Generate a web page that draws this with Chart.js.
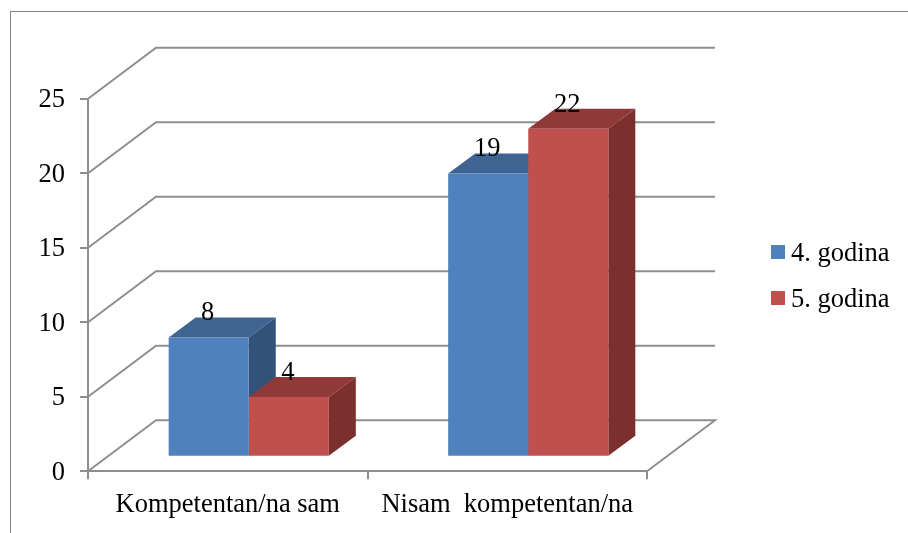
<!DOCTYPE html>
<html>
<head>
<meta charset="utf-8">
<title>Kompetentnost</title>
<script src="https://cdn.jsdelivr.net/npm/chart.js@4"></script>
<style>
html, body { margin: 0; padding: 0; background: #fff; overflow: hidden; }
#frame { position: absolute; left: 10px; top: 11px; right: 0; bottom: 0; border-left: 1px solid #868686; border-top: 1px solid #868686; }
#chart { position: absolute; left: 0; top: 0; }
</style>
</head>
<body>
<div id="frame"></div>
<canvas id="chart" width="908" height="533"></canvas>
<script>
const categories = ['Kompetentan/na sam', 'Nisam  kompetentan/na'];
const seriesNames = ['4. godina', '5. godina'];
const year4 = [8, 19];
const year5 = [4, 22];

const font = 'Liberation Serif';
const fontSize = 26.5;
const gridColor = '#8E8E8E';
const frontColors = ['#4F81BD', '#C0504D'];
const topColors = ['#3F6491', '#8F3A38'];
const sideColors = ['#325279', '#7C302E'];

// how far the back wall sits behind the axes, and how the bars sit on the floor
const wall = { dx: 68, dy: -51 };
const floorShift = { dx: 21, dy: -14.6 };
const barDepth = { dx: 27, dy: -20 };

function poly(ctx, pts, color) {
    ctx.fillStyle = color;
    ctx.beginPath();
    pts.forEach((p, i) => i ? ctx.lineTo(p[0], p[1]) : ctx.moveTo(p[0], p[1]));
    ctx.closePath();
    ctx.fill();
}

//fake 3d: walls and the top and side of each bar, the fronts come from Chart.js
const box3d = {
    id: 'box3d',
    beforeDatasetsDraw(chart) {
        const ctx = chart.ctx;
        const { left, right } = chart.chartArea;
        const yScale = chart.scales.y;
        ctx.save();
        ctx.strokeStyle = gridColor;
        ctx.lineWidth = 2;
        yScale.ticks.forEach(tick => {
            const y = yScale.getPixelForValue(tick.value);
            ctx.beginPath();
            ctx.moveTo(left, y);
            ctx.lineTo(left + wall.dx, y + wall.dy);
            ctx.lineTo(right + wall.dx, y + wall.dy);
            if (tick.value === 0) ctx.lineTo(right, y);
            ctx.stroke();
        });
        ctx.restore();

        chart.data.datasets.forEach((ds, i) => {
            chart.getDatasetMeta(i).data.forEach(bar => {
                const x0 = bar.x - bar.width / 2 + floorShift.dx;
                const x1 = bar.x + bar.width / 2 + floorShift.dx;
                const top = bar.y + floorShift.dy;
                const bottom = bar.base + floorShift.dy;
                const d = barDepth;
                poly(ctx, [[x0, top], [x1, top], [x1 + d.dx, top + d.dy], [x0 + d.dx, top + d.dy]], topColors[i]);
                poly(ctx, [[x1, top], [x1 + d.dx, top + d.dy], [x1 + d.dx, bottom + d.dy], [x1, bottom]], sideColors[i]);
            });
        });
        ctx.save();
        ctx.translate(floorShift.dx, floorShift.dy);
    },
    afterDatasetsDraw(chart) {
        chart.ctx.restore();
    },
    afterDraw(chart) {
        const ctx = chart.ctx;
        ctx.save();
        ctx.font = fontSize + 'px "' + font + '"';
        ctx.fillStyle = '#000';
        // value labels
        ctx.textAlign = 'center';
        ctx.textBaseline = 'middle';
        chart.data.datasets.forEach((ds, i) => {
            chart.getDatasetMeta(i).data.forEach((bar, j) => {
                ctx.fillText(ds.data[j], bar.x + floorShift.dx - 1, bar.y + floorShift.dy - 24);
            });
        });
        // legend
        ctx.textAlign = 'left';
        chart.data.datasets.forEach((ds, i) => {
            const y = 252 + i * 46;
            ctx.fillStyle = frontColors[i];
            ctx.fillRect(771, y - 7, 14, 14);
            ctx.fillStyle = '#000';
            ctx.fillText(ds.label, 791, y + 2);
        });
        ctx.restore();
    }
};

new Chart(document.getElementById('chart').getContext('2d'), {
    type: 'bar',
    data: {
        labels: categories,
        datasets: [
            { label: seriesNames[0], data: year4, backgroundColor: frontColors[0], clip: false },
            { label: seriesNames[1], data: year5, backgroundColor: frontColors[1], clip: false }
        ]
    },
    plugins: [box3d],
    options: {
        responsive: false,
        animation: false,
        events: [],
        layout: { padding: { left: 0, right: 261, top: 98.7, bottom: 0 } },
        datasets: { bar: { categoryPercentage: 0.573, barPercentage: 1 } },
        plugins: { legend: { display: false }, tooltip: { enabled: false } },
        scales: {
            x: {
                afterFit(scale) { scale.height = 61.7; },
                border: { color: gridColor, width: 2 },
                grid: { drawOnChartArea: false, color: gridColor, lineWidth: 2, tickLength: 8 },
                ticks: { color: '#000', padding: 10, maxRotation: 0, autoSkip: false, font: { family: font, size: fontSize } }
            },
            y: {
                min: 0,
                max: 25,
                afterFit(scale) { scale.width = 88; },
                border: { color: gridColor, width: 2 },
                grid: { drawOnChartArea: false, color: gridColor, lineWidth: 2, tickLength: 8 },
                ticks: { color: '#000', stepSize: 5, padding: 15, labelOffset: 1.5, font: { family: font, size: fontSize } }
            }
        }
    }
});
</script>
</body>
</html>
